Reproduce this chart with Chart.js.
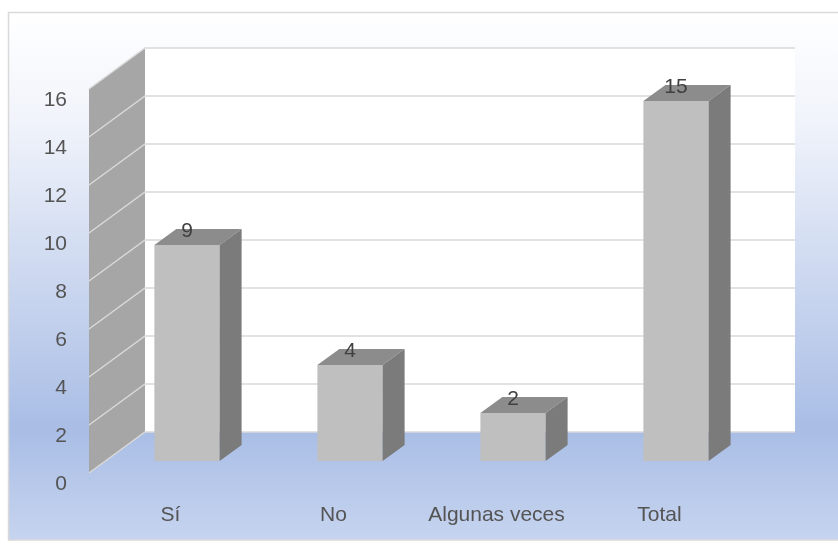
<!DOCTYPE html>
<html>
<head>
<meta charset="utf-8">
<script src="https://cdn.jsdelivr.net/npm/chart.js@4"></script>
<style>
  html, body { margin: 0; padding: 0; background: #fff; }
  #wrap { width: 838px; height: 549px; }
</style>
</head>
<body>
<div id="wrap"><canvas id="chart" width="838" height="549"></canvas></div>
<script>
const categories = ["Sí", "No", "Algunas veces", "Total"];
const values = [9, 4, 2, 15];
const yTicks = [0, 2, 4, 6, 8, 10, 12, 14, 16];

// oblique 3d look (pixels)
const wallDx = 56, wallDy = -41;   // full depth of the walls
const barDx = 16.5, barDy = -12;   // bar front plane shift
const depthDx = 22, depthDy = -16; // bar depth

const $ = document;

const threeD = {
  id: "threeD",
  beforeDraw(chart) {
    const ctx = chart.ctx;
    const g = ctx.createLinearGradient(0, 12, 0, 540);
    g.addColorStop(0, "#ffffff");
    g.addColorStop(0.2, "#f1f4fb");
    g.addColorStop(0.79, "#a9bde5");
    g.addColorStop(1, "#c6d4ef");
    ctx.save();
    ctx.fillStyle = g;
    ctx.fillRect(8, 12, 840, 528);
    ctx.strokeStyle = "#d9d9d9";
    ctx.lineWidth = 1.5;
    ctx.strokeRect(8.5, 12.5, 840, 527.5);
    ctx.restore();
  },
  beforeDatasetsDraw(chart) {
    const ctx = chart.ctx;
    const y = chart.scales.y;
    const a = chart.chartArea;
    const left = a.left, backLeft = a.left + wallDx;
    const backRight = 795;
    const y0 = y.getPixelForValue(0), yTop = y.getPixelForValue(16);
    ctx.save();
    // back wall
    ctx.fillStyle = "#ffffff";
    ctx.fillRect(backLeft, yTop + wallDy, backRight - backLeft, y0 - yTop);
    // side wall
    ctx.fillStyle = "#a6a6a6";
    ctx.beginPath();
    ctx.moveTo(left, y0);
    ctx.lineTo(left, yTop);
    ctx.lineTo(backLeft, yTop + wallDy);
    ctx.lineTo(backLeft, y0 + wallDy);
    ctx.closePath();
    ctx.fill();
    // gridlines
    ctx.strokeStyle = "#d9d9d9";
    ctx.lineWidth = 1.5;
    yTicks.forEach(v => {
      const py = y.getPixelForValue(v);
      ctx.beginPath();
      ctx.moveTo(left, py);
      ctx.lineTo(backLeft, py + wallDy);
      ctx.lineTo(backRight, py + wallDy);
      ctx.stroke();
    });
    ctx.restore();
    ctx.save();
    ctx.translate(barDx, barDy);
  },
  afterDatasetsDraw(chart) {
    const ctx = chart.ctx;
    ctx.restore();
    const meta = chart.getDatasetMeta(0);
    ctx.save();
    ctx.translate(barDx, barDy);
    meta.data.forEach((bar, i) => {
      const l = bar.x - bar.width / 2, r = bar.x + bar.width / 2;
      const t = bar.y, b = bar.base;
      // top face
      ctx.fillStyle = "#8c8c8c";
      ctx.beginPath();
      ctx.moveTo(l, t);
      ctx.lineTo(l + depthDx, t + depthDy);
      ctx.lineTo(r + depthDx, t + depthDy);
      ctx.lineTo(r, t);
      ctx.closePath();
      ctx.fill();
      // side face
      ctx.fillStyle = "#7b7b7b";
      ctx.beginPath();
      ctx.moveTo(r, t);
      ctx.lineTo(r + depthDx, t + depthDy);
      ctx.lineTo(r + depthDx, b + depthDy);
      ctx.lineTo(r, b);
      ctx.closePath();
      ctx.fill();
      // value label
      ctx.fillStyle = "#404040";
      ctx.font = "21px 'Liberation Sans', sans-serif";
      ctx.textAlign = "center";
      ctx.textBaseline = "middle";
      ctx.fillText(String(values[i]), bar.x, t - 14);
    });
    ctx.restore();
  }
};

function drawChart() {
  const canvas = $.getElementById("chart");
  new Chart(canvas, {
    type: "bar",
    data: {
      labels: categories,
      datasets: [{
        data: values,
        backgroundColor: "#bfbfbf",
        borderWidth: 0,
        barPercentage: 0.4,
        categoryPercentage: 1
      }]
    },
    options: {
      responsive: false,
      animation: false,
      layout: { padding: { left: 0, right: 97, top: 89, bottom: 0 } },
      plugins: { legend: { display: false }, tooltip: { enabled: false } },
      scales: {
        x: {
          grid: { display: false, drawTicks: false },
          border: { display: false },
          ticks: { color: "#545454", font: { family: "'Liberation Sans', sans-serif", size: 21 }, padding: 30 },
          afterFit(s) { s.height = 76; }
        },
        y: {
          min: 0,
          max: 16,
          grid: { display: false, drawTicks: false },
          border: { display: false },
          ticks: {
            stepSize: 2,
            color: "#545454",
            font: { family: "'Liberation Sans', sans-serif", size: 21 },
            padding: 22,
            labelOffset: 11
          },
          afterFit(s) { s.width = 89; }
        }
      }
    },
    plugins: [threeD]
  });
}
drawChart();
</script>
</body>
</html>
